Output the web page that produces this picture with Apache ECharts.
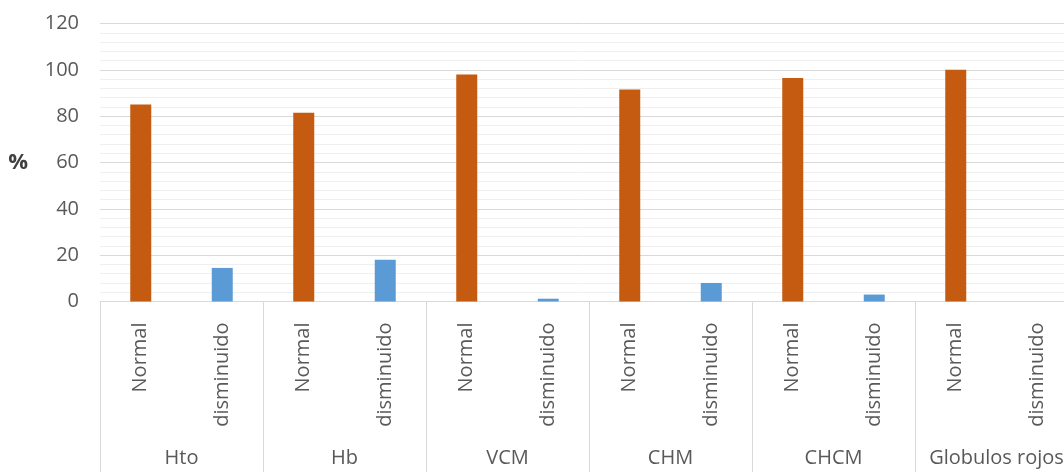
<!DOCTYPE html>
<html>
<head>
<meta charset="utf-8">
<script src="https://cdn.jsdelivr.net/npm/echarts@6/dist/echarts.min.js"></script>
<style>
  html, body { margin: 0; padding: 0; background: #fff; }
  #chart { width: 1064px; height: 472px; }
</style>
</head>
<body>
<div id="chart"></div>
<script>
const groups = ["Hto", "Hb", "VCM", "CHM", "CHCM", "Globulos rojos"];
const statuses = ["Normal", "disminuido"];
const normalPct = [85, 81.5, 98, 91.5, 96.5, 100];
const disminuidoPct = [14.5, 18, 1.2, 8, 3, 0];
const yTicks = [0, 20, 40, 60, 80, 100, 120];

// inner category row: Normal / disminuido for each group
const inner = [];
const normalData = [];
const dismData = [];
groups.forEach((g, i) => {
  inner.push(statuses[0], statuses[1]);
  normalData.push(normalPct[i], "-");
  dismData.push("-", disminuidoPct[i]);
});

const chart = echarts.init(document.getElementById("chart"));
const textColor = "#595959";
const lineColor = "#d9d9d9";

chart.setOption({
  animation: false,
  textStyle: { fontFamily: "Open Sans" },
  grid: {
    left: 100,
    top: 23.5,
    width: 978,
    bottom: 170.5,
    outerBoundsMode: "none",
    containLabel: false,
  },
  xAxis: [
    {
      type: "category",
      data: inner,
      axisLine: { lineStyle: { color: lineColor, width: 1 } },
      axisTick: { show: false },
      axisLabel: {
        interval: 0,
        rotate: 90,
        margin: 21,
        fontSize: 20,
        color: textColor,
      },
    },
    {
      type: "category",
      data: groups,
      position: "bottom",
      axisLine: { show: false },
      axisTick: {
        show: true,
        interval: 0,
        length: 175,
        lineStyle: { color: lineColor },
      },
      axisLabel: {
        interval: 0,
        margin: 147,
        fontSize: 20,
        color: textColor,
      },
    },
  ],
  yAxis: {
    type: "value",
    min: yTicks[0],
    max: yTicks[yTicks.length - 1],
    interval: 20,
    name: "%",
    nameLocation: "middle",
    nameRotate: 0,
    nameGap: 72,
    nameTextStyle: { fontSize: 22, fontWeight: "bold", color: "#404040", padding: [6, 0, 0, 0] },
    axisLine: { show: false },
    axisTick: { show: false },
    axisLabel: { fontSize: 20, color: textColor, margin: 21 },
    splitLine: { lineStyle: { color: lineColor } },
    minorTick: { show: false, splitNumber: 5 },
    minorSplitLine: { show: true, lineStyle: { color: "#efefef" } },
  },
  series: [
    {
      name: "Normal",
      type: "bar",
      data: normalData,
      stack: "v",
      barWidth: 21,
      itemStyle: { color: "#c55a11" },
    },
    {
      name: "disminuido",
      type: "bar",
      data: dismData,
      stack: "v",
      barWidth: 21,
      itemStyle: { color: "#5b9bd5" },
    },
  ],
});
</script>
</body>
</html>
